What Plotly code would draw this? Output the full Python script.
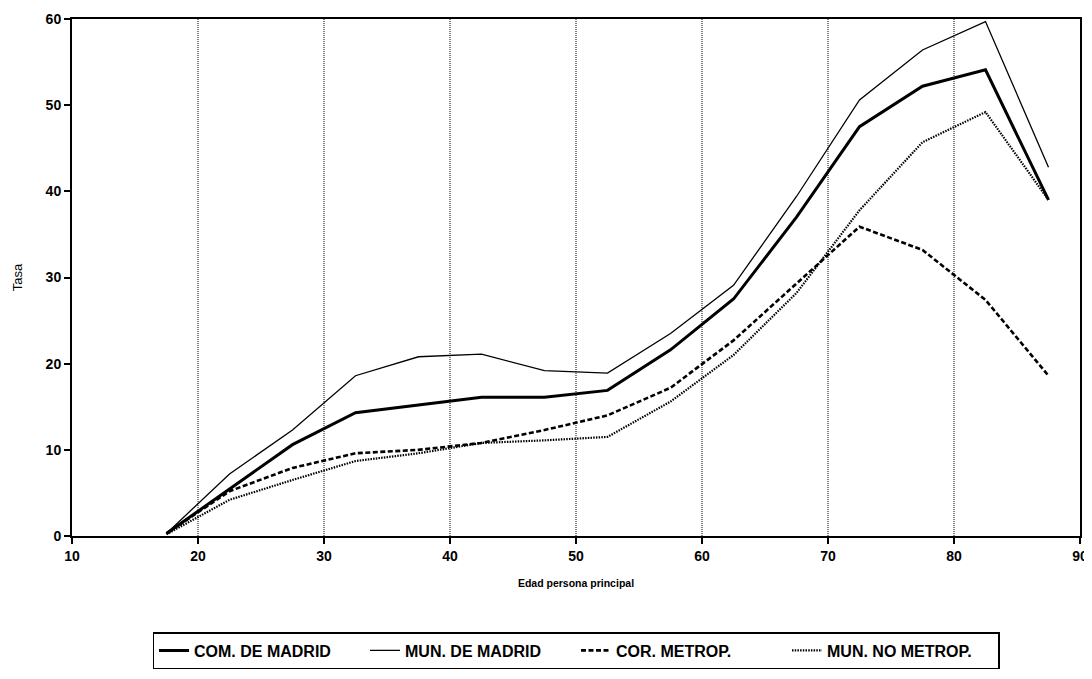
import plotly.graph_objects as go

edad = [17.5, 22.5, 27.5, 32.5, 37.5, 42.5, 47.5, 52.5, 57.5, 62.5, 67.5, 72.5, 77.5, 82.5, 87.5]
com_madrid = [0.3, 5.5, 10.6, 14.3, 15.2, 16.1, 16.1, 16.9, 21.6, 27.5, 37.0, 47.5, 52.2, 54.1, 39.0]
mun_madrid = [0.3, 7.2, 12.3, 18.6, 20.8, 21.1, 19.2, 18.9, 23.5, 29.1, 39.4, 50.6, 56.4, 59.7, 42.8]
cor_metrop = [0.3, 5.2, 7.9, 9.6, 10.0, 10.8, 12.3, 14.0, 17.2, 22.7, 29.3, 35.9, 33.2, 27.4, 18.6]
mun_no_metrop = [0.2, 4.2, 6.5, 8.7, 9.6, 10.8, 11.1, 11.5, 15.6, 21.0, 28.2, 37.8, 45.7, 49.2, 39.0]
x_ticks = [10, 20, 30, 40, 50, 60, 70, 80, 90]
y_ticks = [0, 10, 20, 30, 40, 50, 60]
grid_x = [20, 30, 40, 50, 60, 70, 80]

series = [
    ("COM. DE MADRID", com_madrid, 3.0, "solid"),
    ("MUN. DE MADRID", mun_madrid, 1.3, "solid"),
    ("COR. METROP.", cor_metrop, 2.6, "5px,2.5px"),
    ("MUN. NO METROP.", mun_no_metrop, 2.2, "1.5px,1.2px"),
]

fig = go.Figure()
for name, vals, w, dash in series:
    fig.add_trace(go.Scatter(x=edad, y=vals, mode="lines", name=name,
                             line=dict(color="black", width=w, dash=dash)))

# page body has an 8px margin, so the figure is sized to fit 1092x679 window
W, H = 1084, 671
font_family = "Liberation Sans, Arial, sans-serif"
tickfont = dict(family=font_family, size=14, color="black", weight="bold")
fig.update_layout(
    width=W, height=H,
    margin=dict(l=64, r=12, t=11, b=143, autoexpand=False),
    paper_bgcolor="white", plot_bgcolor="white",
    font=dict(family=font_family, size=13, color="black"),
    showlegend=True,
    legend=dict(orientation="h", x=0.5, xanchor="center",
                yref="container", y=(H - (650.5 - 8)) / H, yanchor="middle",
                bordercolor="black", borderwidth=1.5, bgcolor="white",
                font=dict(size=16, family=font_family, weight="bold"),
                itemwidth=30, entrywidth=166, entrywidthmode="pixels",
                tracegroupgap=0),
    xaxis=dict(range=[10, 90], tickvals=x_ticks, automargin=False,
               showgrid=False, zeroline=False, showline=True, linecolor="black",
               linewidth=2, mirror=True, ticks="outside", ticklen=6, tickwidth=1.5,
               tickcolor="black", tickfont=tickfont,
               title=dict(text="Edad persona principal", standoff=17,
                          font=dict(size=10.5, family=font_family, weight="bold"))),
    yaxis=dict(range=[0, 60], tickvals=y_ticks, automargin=False,
               showgrid=False, zeroline=False, showline=True, linecolor="black",
               linewidth=2, mirror=True, ticks="outside", ticklen=6, tickwidth=1.5,
               tickcolor="black", tickfont=tickfont,
               title=dict(text="Tasa", standoff=20,
                          font=dict(size=13, family=font_family))),
)

for gx in grid_x:
    fig.add_shape(type="line", xref="x", yref="paper", x0=gx, x1=gx, y0=0, y1=1,
                  line=dict(color="black", width=1, dash="1px,1px"), layer="below")

fig.write_html("out.html")
